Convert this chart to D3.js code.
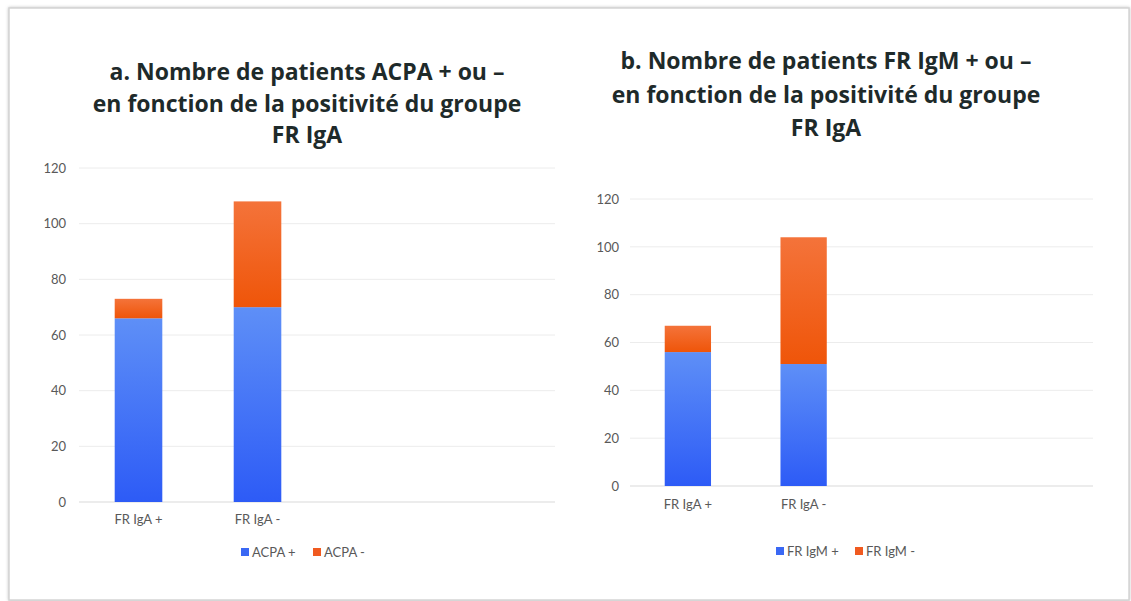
<!DOCTYPE html>
<html>
<head>
<meta charset="utf-8">
<script src="https://cdn.jsdelivr.net/npm/d3@7"></script>
<style>
  html, body { margin: 0; padding: 0; background: #ffffff; }
  svg { display: block; }
</style>
</head>
<body>
<svg id="chart" width="1131" height="601"></svg>
<script>
// ---- Data ----
const categories = ["FR IgA +", "FR IgA -"];
const acpaPos = [66, 70];
const acpaNeg = [7, 38];
const igmPos = [56, 51];
const igmNeg = [11, 53];
const yTicks = [0, 20, 40, 60, 80, 100, 120];
const titleA = ["a. Nombre de patients ACPA + ou \u2013", "en fonction de la positivit\u00e9 du groupe", "FR IgA"];
const titleB = ["b. Nombre de patients FR IgM + ou \u2013", "en fonction de la positivit\u00e9 du groupe", "FR IgA"];
const legendA = ["ACPA +", "ACPA -"];
const legendB = ["FR IgM +", "FR IgM -"];

const svg = d3.select("#chart");
const FONT = "Lato, 'Open Sans', sans-serif";
const TFONT = "'Open Sans', Lato, sans-serif";

// Frame
const defs = svg.append("defs");
const f = defs.append("filter").attr("id", "shadow").attr("x", "-2%").attr("y", "-2%").attr("width", "104%").attr("height", "104%");
f.append("feDropShadow").attr("dx", 0).attr("dy", 0).attr("stdDeviation", 1.5).attr("flood-color", "#9a9a9a").attr("flood-opacity", 0.6);
svg.append("rect").attr("x", 9).attr("y", 8).attr("width", 1120).attr("height", 592)
  .attr("fill", "#ffffff").attr("stroke", "#d4d4d4").attr("stroke-width", 1.5).attr("filter", "url(#shadow)");

// Gradients
function grad(id, top, bottom) {
  const g = defs.append("linearGradient").attr("id", id).attr("x1", 0).attr("y1", 0).attr("x2", 0).attr("y2", 1);
  g.append("stop").attr("offset", "0%").attr("stop-color", top);
  g.append("stop").attr("offset", "100%").attr("stop-color", bottom);
}
grad("gBlue", "#5e8ff7", "#2d5bf6");
grad("gOrange", "#f4733a", "#ef5509");
const fills = ["url(#gBlue)", "url(#gOrange)"];
const legendColors = ["#3a68f4", "#f05a20"];

function drawPanel(cfg) {
  const g = svg.append("g");
  const y = d3.scaleLinear().domain([0, 120]).range([cfg.y0, cfg.y120]);
  const band = (cfg.right - cfg.left) / 4;
  const x = d3.scaleBand().domain(cfg.categories)
    .range([cfg.left, cfg.left + band * cfg.categories.length]).paddingInner(cfg.pad).paddingOuter(cfg.pad / 2);

  // Gridlines
  g.append("g").selectAll("line").data(yTicks).join("line")
    .attr("x1", cfg.left).attr("x2", cfg.right)
    .attr("y1", d => y(d)).attr("y2", d => y(d))
    .attr("stroke", d => d === 0 ? "#d9d9d9" : "#ececec").attr("stroke-width", 1);

  // Y axis labels
  const yAxis = d3.axisLeft(y).tickValues(yTicks).tickSize(0).tickPadding(0);
  const ya = g.append("g").attr("transform", `translate(${cfg.tickX},0)`).call(yAxis);
  ya.select(".domain").remove();
  ya.selectAll("text").attr("font-family", FONT).attr("font-size", 13).attr("fill", "#595959");

  // Stacked bars
  const rows = cfg.categories.map((c, i) => ({ cat: c, pos: cfg.pos[i], neg: cfg.neg[i] }));
  const series = d3.stack().keys(["pos", "neg"])(rows);
  g.append("g").selectAll("g").data(series).join("g")
    .attr("fill", (d, i) => fills[i])
    .selectAll("rect").data(d => d).join("rect")
    .attr("x", d => x(d.data.cat))
    .attr("width", x.bandwidth())
    .attr("y", d => y(d[1]))
    .attr("height", d => y(d[0]) - y(d[1]));

  // X axis labels
  const xAxis = d3.axisBottom(x).tickSize(0).tickPadding(0);
  const xa = g.append("g").attr("transform", `translate(0,${cfg.xLabelY})`).call(xAxis);
  xa.select(".domain").remove();
  xa.selectAll("text").attr("font-family", FONT).attr("font-size", 13).attr("fill", "#595959");

  // Title
  g.append("text").attr("font-family", TFONT).attr("font-weight", "bold").attr("font-size", cfg.titleSize)
    .attr("fill", "#1e2a2a").attr("text-anchor", "middle")
    .selectAll("tspan").data(cfg.title).join("tspan")
    .attr("x", cfg.titleX).attr("y", (d, i) => cfg.titleY[i]).text(d => d);

  // Legend
  const lg = g.append("g");
  cfg.legend.forEach((name, i) => {
    lg.append("rect").attr("x", cfg.legendX[i]).attr("y", cfg.legendY - 4).attr("width", 8).attr("height", 8)
      .attr("fill", legendColors[i]);
    lg.append("text").attr("x", cfg.legendX[i] + 11).attr("y", cfg.legendY).attr("dy", "0.35em")
      .attr("font-family", FONT).attr("font-size", 13).attr("fill", "#595959").text(name);
  });
}

drawPanel({
  categories, pos: acpaPos, neg: acpaNeg,
  left: 79, right: 555, y0: 502, y120: 168, pad: 0.6,
  tickX: 66, xLabelY: 515,
  title: titleA, titleX: 307, titleY: [80, 112, 143], titleSize: 23,
  legend: legendA, legendX: [241, 313], legendY: 552
});

drawPanel({
  categories, pos: igmPos, neg: igmNeg,
  left: 630, right: 1093, y0: 486, y120: 199, pad: 0.6,
  tickX: 619, xLabelY: 500,
  title: titleB, titleX: 826, titleY: [69, 103, 136], titleSize: 23,
  legend: legendB, legendX: [776, 855], legendY: 551
});
</script>
</body>
</html>
